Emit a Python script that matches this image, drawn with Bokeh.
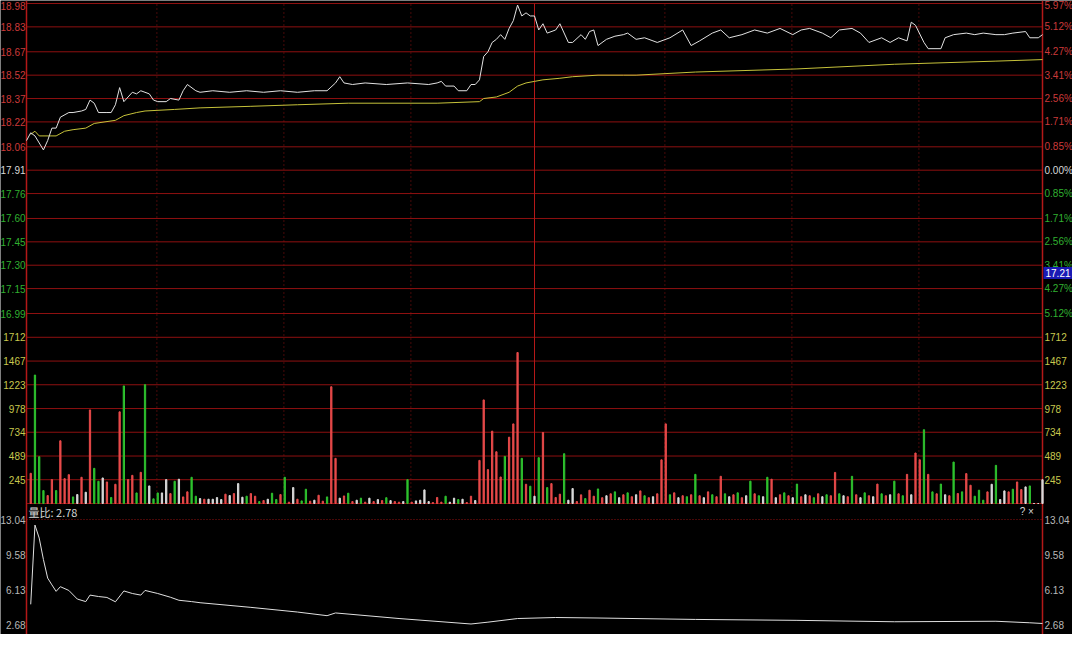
from bokeh.plotting import figure
from bokeh.models import Range1d, Label
from bokeh.embed import file_html
from bokeh.resources import INLINE
from bokeh.core.properties import value

# ---------------- data ----------------
price_levels = [18.98, 18.83, 18.67, 18.52, 18.37, 18.22, 18.06, 17.91, 17.76, 17.60, 17.45, 17.30, 17.15, 16.99]
price_labels = ["18.98", "18.83", "18.67", "18.52", "18.37", "18.22", "18.06", "17.91", "17.76", "17.60", "17.45", "17.30", "17.15", "16.99"]
pct_labels = ["5.97%", "5.12%", "4.27%", "3.41%", "2.56%", "1.71%", "0.85%", "0.00%", "0.85%", "1.71%", "2.56%", "3.41%", "4.27%", "5.12%"]
prev_close = 17.91
cursor_price = "17.21"

vol_levels = [1712, 1467, 1223, 978, 734, 489, 245]
vol_labels = ["1712", "1467", "1223", "978", "734", "489", "245"]
vol_top = 1957

ratio_levels = [13.04, 9.58, 6.13, 2.68]
ratio_labels = ["13.04", "9.58", "6.13", "2.68"]

minute_lines = [30.8, 60.8, 90.8, 150.8, 180.8, 210.8]
noon_line = 120

price_t = [0, 1, 2, 4, 5, 6, 7, 8, 10, 11, 13, 14, 15, 16, 17, 19, 20, 21, 22, 23, 24, 25, 26, 27, 29, 30, 31, 33, 34, 36, 37, 38, 40, 41,
           44, 48, 52, 56, 60, 64, 68, 71, 73, 74, 75, 77, 80, 85, 90, 95, 97, 98, 99, 101, 102, 104, 105, 106, 107, 108, 109, 110, 111,
           112, 113, 114, 115, 116, 117, 118, 119, 120, 121, 122, 123, 125, 126, 128, 129, 131, 132, 133, 134, 135, 137, 139, 141, 142, 144,
           146, 149, 152, 155, 157, 159, 162, 164, 166, 169, 172, 175, 178, 181, 183, 185, 188, 190, 192, 195, 197, 199, 202, 204, 206, 208,
           209, 210, 212, 213, 216, 217, 219, 222, 224, 226, 229, 231, 233, 236, 237, 239, 240]
price_v = [18.10, 18.15, 18.13, 18.04, 18.10, 18.18, 18.18, 18.25, 18.28, 18.28, 18.29, 18.30, 18.36, 18.34, 18.28, 18.28, 18.28, 18.33, 18.44, 18.35, 18.38, 18.41, 18.40, 18.42, 18.40, 18.36, 18.35, 18.35, 18.37, 18.36, 18.42, 18.46, 18.42, 18.41,
           18.42, 18.41, 18.42, 18.41, 18.42, 18.41, 18.42, 18.42, 18.47, 18.51, 18.47, 18.46, 18.47, 18.46, 18.47, 18.46, 18.47, 18.48, 18.45, 18.45, 18.42, 18.42, 18.46, 18.46, 18.49, 18.64, 18.67, 18.73, 18.75,
           18.78, 18.75, 18.82, 18.87, 18.97, 18.90, 18.92, 18.90, 18.90, 18.81, 18.85, 18.79, 18.81, 18.85, 18.73, 18.73, 18.78, 18.75, 18.80, 18.81, 18.71, 18.75, 18.77, 18.78, 18.79, 18.75,
           18.76, 18.73, 18.76, 18.81, 18.71, 18.74, 18.79, 18.81, 18.76, 18.78, 18.81, 18.79, 18.82, 18.78, 18.81, 18.82, 18.79, 18.76, 18.81, 18.82, 18.79, 18.73, 18.76, 18.73, 18.76, 18.74,
           18.86, 18.84, 18.73, 18.69, 18.69, 18.76, 18.78, 18.79, 18.78, 18.79, 18.78, 18.78, 18.79, 18.80, 18.76, 18.76, 18.78]

avg_t = [1, 2, 3, 7, 9, 11, 14, 16, 21, 23, 26, 28, 35, 41, 53, 64, 76, 97, 107, 108, 111, 114, 116, 118, 120, 122, 126, 129, 135, 141, 144, 158, 182, 205, 229, 240]
avg_v = [18.14, 18.16, 18.13, 18.13, 18.16, 18.17, 18.18, 18.21, 18.23, 18.26, 18.28, 18.29, 18.30, 18.31, 18.32, 18.33, 18.34, 18.34, 18.35, 18.37, 18.38, 18.41, 18.45, 18.47, 18.48, 18.49, 18.50, 18.51, 18.52, 18.52, 18.52, 18.54, 18.56, 18.59, 18.61, 18.62]

vol_t = list(range(1, 241))
vol = [311, 1323, 482, 133, 82, 246, 133, 646, 256, 297, 68, 92, 270, 116, 964, 362, 229, 263, 222, 62,
       198, 944, 1211, 246, 290, 109, 321, 1224, 181, 48, 109, 109, 246, 102, 229, 250, 68, 120, 270, 75,
       51, 44, 44, 44, 61, 41, 96, 82, 102, 205, 65, 75, 102, 75, 20, 31, 44, 106, 41, 92,
       270, 14, 164, 44, 27, 147, 24, 34, 85, 24, 68, 1203, 465, 55, 78, 106, 20, 34, 55, 14,
       55, 20, 40, 30, 60, 30, 20, 14, 20, 246, 14, 27, 34, 140, 20, 10, 62, 14, 75, 14,
       55, 41, 44, 10, 75, 31, 444, 1067, 349, 745, 533, 273, 485, 683, 820, 1555, 465, 198, 178, 75,
       472, 731, 164, 205, 62, 96, 513, 34, 154, 20, 89, 51, 137, 75, 150, 60, 80, 100, 120, 60,
       90, 110, 70, 90, 130, 80, 60, 70, 100, 450, 820, 90, 110, 60, 80, 70, 90, 300, 80, 60,
       120, 90, 70, 280, 100, 70, 90, 110, 60, 80, 230, 100, 80, 70, 270, 250, 60, 90, 110, 80,
       60, 200, 70, 90, 80, 60, 100, 70, 90, 80, 320, 100, 80, 70, 280, 90, 60, 110, 80, 70,
       200, 100, 80, 90, 230, 100, 80, 300, 90, 520, 450, 760, 300, 120, 100, 200, 90, 80, 427, 103,
       120, 308, 188, 75, 137, 34, 120, 198, 393, 41, 130, 120, 147, 222, 144, 171, 181, 0, 0, 245]
vol_dir = [
    "r", "g", "g", "g", "r", "r", "g", "r", "r", "r", "g", "w", "r", "w", "r", "g", "g", "w", "r", "g",
    "r", "r", "g", "r", "r", "g", "r", "g", "w", "g", "g", "w", "w", "r", "g", "w", "r", "r", "g", "g",
    "w", "r", "w", "w", "w", "w", "r", "w", "r", "w", "w", "g", "r", "r", "g", "r", "w", "g", "g", "r",
    "g", "r", "w", "r", "g", "g", "r", "w", "r", "r", "g", "r", "r", "w", "r", "g", "r", "w", "g", "r",
    "w", "r", "w", "r", "g", "w", "r", "r", "w", "g", "r", "w", "w", "w", "w", "r", "r", "r", "g", "w",
    "w", "g", "w", "r", "r", "w", "r", "r", "r", "r", "r", "r", "g", "r", "r", "r", "g", "r", "g", "w",
    "g", "r", "g", "r", "r", "r", "g", "w", "w", "r", "r", "g", "r", "r", "g", "r", "w", "r", "g", "w",
    "r", "g", "r", "w", "r", "g", "r", "w", "r", "r", "r", "g", "r", "w", "r", "g", "r", "g", "r", "w",
    "r", "g", "r", "r", "g", "w", "r", "g", "r", "w", "g", "r", "g", "w", "g", "r", "w", "r", "g", "r",
    "w", "g", "r", "w", "r", "g", "r", "w", "g", "r", "r", "g", "w", "r", "g", "r", "w", "g", "r", "w",
    "r", "g", "r", "w", "g", "r", "g", "r", "w", "r", "r", "g", "r", "g", "r", "g", "w", "r", "g", "r",
    "g", "r", "r", "g", "g", "g", "r", "w", "g", "w", "w", "r", "g", "r", "r", "w", "g", "w", "w", "w"]

ratio_t = [1, 2, 3, 4, 5, 6, 7, 8, 10, 12, 14, 15, 17, 19, 21, 23, 25, 27, 28, 31, 34, 36, 39, 41, 53, 64, 71, 73, 88, 105, 109, 116, 125, 135, 158, 182, 205, 229, 237, 240]
ratio_v = [4.67, 12.49, 11.21, 9.09, 7.26, 6.59, 5.95, 6.41, 6.04, 5.19, 4.94, 5.58, 5.44, 5.35, 4.92, 5.99, 5.74, 5.58, 6.04, 5.74, 5.37, 5.07, 4.94, 4.83, 4.37, 3.91, 3.55, 3.82, 3.27, 2.73, 2.91, 3.27, 3.37, 3.32, 3.18, 3.09, 2.95, 3.00, 2.85, 2.78]

# ---------------- layout / style ----------------
FONT = "Liberation Sans"
CJK = "Noto Sans CJK SC"
W, H = 1072, 634
X0_PX, X1_PX = 26, 1042           # plot area left / right edge in pixels
GRID = "#8e1010"
AXIS = "#b41818"
RED_T, WHITE_T, GREEN_T, YEL_T, GRAY_T = "#cc3a3a", "#d8d8d8", "#30b030", "#c8c84e", "#b8b8b8"
BAR_COL = {"r": "#e84a4a", "g": "#2ec22e", "w": "#dadada"}

ppm = (X1_PX - X0_PX) / 240.0
x_range = Range1d(-X0_PX / ppm, 240 + (W - X1_PX) / ppm)


def band(v_top, y_top, v_bot, y_bot):
    """A y range whose values v_top / v_bot land on pixel rows y_top / y_bot of the canvas."""
    per = (v_top - v_bot) / (y_bot - y_top)
    return Range1d(v_bot - (H - y_bot) * per, v_top + y_top * per), per


price_rng, pp = band(price_levels[0], 3, price_levels[-1], 313)
vol_rng, vp = band(vol_top, 313, 0, 503)
ratio_rng, rp = band(ratio_levels[0], 519, ratio_levels[-1], 624)

p = figure(width=W, height=H, x_range=x_range, y_range=price_rng,
           x_axis_location=None, y_axis_location=None,
           output_backend="svg", toolbar_location=None, min_border=0,
           background_fill_color="black", border_fill_color="black", outline_line_color=None)
p.extra_y_ranges = {"vol": vol_rng, "ratio": ratio_rng}
p.grid.visible = False


def hlines(levels, rng=None, **kw):
    n = len(levels)
    extra = {} if rng is None else {"y_range_name": rng}
    p.segment(x0=[0] * n, x1=[240] * n, y0=levels, y1=levels, **extra, **kw)


def vlines(locs, y0, y1, rng=None, **kw):
    n = len(locs)
    extra = {} if rng is None else {"y_range_name": rng}
    p.segment(x0=locs, x1=locs, y0=[y0] * n, y1=[y1] * n, **extra, **kw)


def side_text(levels, left, lcol, right, rcol, rng=None):
    n = len(levels)
    extra = {} if rng is None else {"y_range_name": rng}
    common = dict(text_font=value(FONT), text_font_size="10px", text_baseline="middle", **extra)
    p.text(x=[0] * n, y=levels, text=left, text_color=lcol, text_align="right", x_offset=-1, **common)
    p.text(x=[240] * n, y=levels, text=right, text_color=rcol, text_align="left", x_offset=2, **common)


# grid lines
hlines(price_levels, line_color=GRID, line_width=1)
hlines(vol_levels + [0], rng="vol", line_color=GRID, line_width=1)
hlines([ratio_levels[0]], rng="ratio", line_color=GRID, line_width=1, line_dash="1 2")
vlines(minute_lines, price_levels[-1], price_levels[0], line_color=GRID, line_width=1, line_dash="1 3")
vlines(minute_lines, 0, vol_top, rng="vol", line_color=GRID, line_width=1, line_dash="1 3")
vlines([noon_line], price_levels[-1], price_levels[0], line_color=AXIS, line_width=1)
vlines([noon_line], 0, vol_top, rng="vol", line_color=AXIS, line_width=1)
vlines([0, 240], price_rng.start, price_rng.end, line_color=AXIS, line_width=1.5)

# price + average
p.line(avg_t, avg_v, line_color="#c6c23a", line_width=1)
p.line(price_t, price_v, line_color="#e2e2e2", line_width=1)

# volume bars
p.vbar(x=vol_t, top=vol, bottom=0, width=0.3, color=[BAR_COL[d] for d in vol_dir], y_range_name="vol")

# volume ratio
p.line(ratio_t, ratio_v, line_color="#e0e0e0", line_width=1, y_range_name="ratio")

# axis labels
lc = [RED_T if v > prev_close + 1e-9 else (WHITE_T if abs(v - prev_close) < 1e-9 else GREEN_T) for v in price_levels]
label_y = list(price_levels)
label_y[0] -= 2 * pp            # keep the topmost labels inside the page
side_text(label_y, price_labels, lc, pct_labels, lc)
side_text(vol_levels, vol_labels, [YEL_T] * len(vol_levels), vol_labels, [YEL_T] * len(vol_levels), rng="vol")
side_text(ratio_levels, ratio_labels, [GRAY_T] * len(ratio_levels), ratio_labels, [GRAY_T] * len(ratio_levels), rng="ratio")

# cursor price box on the right axis
p.add_layout(Label(x=240, y=price_levels[0] - 269.5 * pp, x_offset=1, text=cursor_price, text_color="white",
                   text_font=FONT, text_font_size="10px", text_baseline="middle",
                   background_fill_color="#1a1ab4", padding=2))

# volume-ratio header
header_y = ratio_levels[0] + 8 * rp
p.text(x=[0], y=[header_y], text=["量比: " + f"{ratio_v[-1]:.2f}"], text_color="#d8d8d8", x_offset=2,
       text_font=value(CJK), text_font_size="11px", text_baseline="middle", y_range_name="ratio")
p.text(x=[240], y=[header_y], text=["?   ×"], text_color="#d8d8d8", x_offset=-3, text_align="right",
       text_font=value(FONT), text_font_size="10px", text_baseline="middle", y_range_name="ratio")

open("out.html", "w").write(file_html(p, INLINE))
